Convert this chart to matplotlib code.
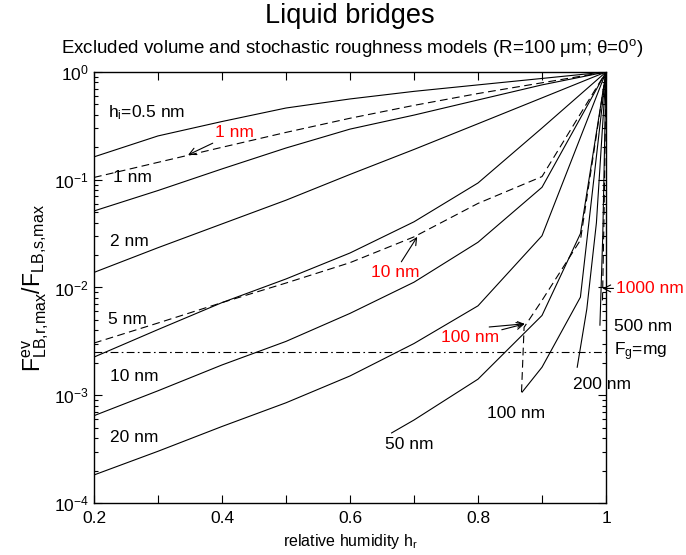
import numpy as np
import matplotlib
matplotlib.use("Agg")
import matplotlib.pyplot as plt
from matplotlib.ticker import FixedLocator, LogLocator, NullFormatter

plt.rcParams["font.family"] = ["Liberation Sans", "DejaVu Sans"]
plt.rcParams["mathtext.fontset"] = "custom"
plt.rcParams["mathtext.rm"] = "Liberation Sans"
plt.rcParams["mathtext.it"] = "Liberation Sans:italic"
plt.rcParams["mathtext.bf"] = "Liberation Sans:bold"

# relative humidity grid used by the small-roughness curves
hr = [0.2, 0.3, 0.4, 0.5, 0.6, 0.7, 0.8, 0.9, 1.0]

# excluded volume model (solid lines)
ev_05 = [0.163, 0.255, 0.347, 0.463, 0.562, 0.661, 0.759, 0.871, 1.0]
ev_1 = [0.0513, 0.0794, 0.126, 0.197, 0.295, 0.398, 0.55, 0.759, 1.0]
ev_2 = [0.0138, 0.0234, 0.0389, 0.0646, 0.112, 0.191, 0.331, 0.575, 1.0]
ev_5 = [0.00226, 0.00407, 0.00724, 0.012, 0.0209, 0.0407, 0.0933, 0.302, 1.0]
ev_10 = [0.000646, 0.0011, 0.00191, 0.00316, 0.00575, 0.0112, 0.0263, 0.0851, 1.0]
ev_20 = [0.000182, 0.000302, 0.000513, 0.000851, 0.00151, 0.00302, 0.00676, 0.0302, 1.0]
hr_50 = [0.665, 0.7, 0.8, 0.9, 0.96, 1.0]
ev_50 = [0.000447, 0.000589, 0.00141, 0.0055, 0.0316, 1.0]
hr_100 = [0.869, 0.9, 0.96, 1.0]
ev_100 = [0.00107, 0.00182, 0.00813, 1.0]
hr_200 = [0.955, 0.97, 0.985, 1.0]
ev_200 = [0.00182, 0.00631, 0.0398, 1.0]
hr_500 = [0.9905, 0.995, 1.0]
ev_500 = [0.00447, 0.0316, 1.0]

# stochastic roughness model (dashed lines)
sr_1 = [0.105, 0.145, 0.2, 0.275, 0.372, 0.49, 0.631, 0.794, 1.0]
sr_10 = [0.00305, 0.00468, 0.00724, 0.011, 0.017, 0.0295, 0.0603, 0.107, 1.0]
hr_sr100 = [0.868, 0.872, 0.9, 0.96, 1.0]
sr_100 = [0.00107, 0.00427, 0.00759, 0.0275, 1.0]
hr_sr1000 = [0.9945, 0.997, 1.0]
sr_1000 = [0.00759, 0.0501, 1.0]

f_gravity = 0.00251

fig = plt.figure(figsize=(6.86, 5.55), dpi=100)
ax = fig.add_axes([0.137, 0.0937, 0.7464, 0.7766])

solid = dict(color="black", lw=0.8)
dashed = dict(color="black", lw=0.8, dashes=(7, 4))
ax.plot(hr, ev_05, **solid)
ax.plot(hr, ev_1, **solid)
ax.plot(hr, ev_2, **solid)
ax.plot(hr, ev_5, **solid)
ax.plot(hr, ev_10, **solid)
ax.plot(hr, ev_20, **solid)
ax.plot(hr_50, ev_50, **solid)
ax.plot(hr_100, ev_100, **solid)
ax.plot(hr_200, ev_200, **solid)
ax.plot(hr_500, ev_500, **solid)
ax.plot(hr, sr_1, **dashed)
ax.plot(hr, sr_10, **dashed)
ax.plot(hr_sr100, sr_100, **dashed)
ax.plot(hr_sr1000, sr_1000, **dashed)
ax.plot([0.2, 1.0], [f_gravity, f_gravity], color="black", lw=0.8, dashes=(7, 3, 1.5, 3))

ax.set_yscale("log")
ax.set_xlim(0.2, 1.0)
ax.set_ylim(1e-4, 1)

ax.xaxis.set_major_locator(FixedLocator([0.2, 0.4, 0.6, 0.8, 1.0]))
ax.xaxis.set_minor_locator(FixedLocator([0.3, 0.5, 0.7, 0.9]))
ax.xaxis.set_major_formatter(plt.FuncFormatter(lambda v, p: "1" if v == 1 else f"{v:.1f}"))
ax.yaxis.set_minor_locator(LogLocator(base=10, subs=np.arange(2, 10), numticks=20))
ax.yaxis.set_minor_formatter(NullFormatter())
ax.tick_params(which="both", direction="in", top=True, right=True, labelsize=12.5, width=0.8)
ax.tick_params(axis="x", which="both", length=6)
ax.tick_params(axis="y", which="major", length=6)
ax.tick_params(axis="y", which="minor", length=3)
ax.tick_params(axis="x", pad=6)
for s in ax.spines.values():
    s.set_linewidth(1.0)

ax.set_xlabel(r"relative humidity h$_\mathrm{r}$", fontsize=11.5, labelpad=4)
ax.set_ylabel(r"F$^\mathrm{ev}_\mathrm{LB{,}r{,}max}$/F$_\mathrm{LB{,}s{,}max}$", fontsize=16.5, labelpad=2)

fig.text(0.51, 0.972, "Liquid bridges", ha="center", va="center", fontsize=19.5)
fig.text(0.513, 0.913, "Excluded volume and stochastic roughness models (R=100 μm; θ=0$^\\mathrm{o}$)",
         ha="center", va="center", fontsize=13.5)

lab = dict(fontsize=12.5, ha="left", va="center")
ax.text(0.222, 0.417, r"h$_\mathrm{i}$=0.5 nm", **lab)
ax.text(0.23, 0.106, "1 nm", **lab)
ax.text(0.225, 0.027, "2 nm", **lab)
ax.text(0.222, 0.005, "5 nm", **lab)
ax.text(0.225, 0.0015, "10 nm", **lab)
ax.text(0.225, 0.000408, "20 nm", **lab)
ax.text(0.655, 0.000347, "50 nm", **lab)
ax.text(0.814, 0.000684, "100 nm", **lab)
ax.text(0.948, 0.00127, "200 nm", **lab)
ax.text(1.0125, 0.00438, "500 nm", **lab)
ax.text(1.0125, f_gravity, r"F$_\mathrm{g}$=mg", **lab)

red = dict(fontsize=12.5, color="red", va="center")
arrow = dict(arrowstyle="->", color="black", lw=0.8, shrinkA=0, shrinkB=0)
ax.annotate("1 nm", xy=(0.347, 0.17), xytext=(0.389, 0.272), ha="left",
            arrowprops=arrow, **red)
ax.annotate("10 nm", xy=(0.705, 0.0295), xytext=(0.67, 0.0139), ha="center",
            arrowprops=arrow, **red)
ax.annotate("100 nm", xy=(0.873, 0.0046), xytext=(0.742, 0.0034), ha="left",
            arrowprops=arrow, **red)
ax.annotate("", xy=(0.8725, 0.0046), xytext=(0.8175, 0.0043), arrowprops=arrow)
ax.annotate("1000 nm", xy=(0.9945, 0.0098), xytext=(1.016, 0.0098), ha="left",
            arrowprops=arrow, **red)

fig.savefig("out.png", dpi=100)
